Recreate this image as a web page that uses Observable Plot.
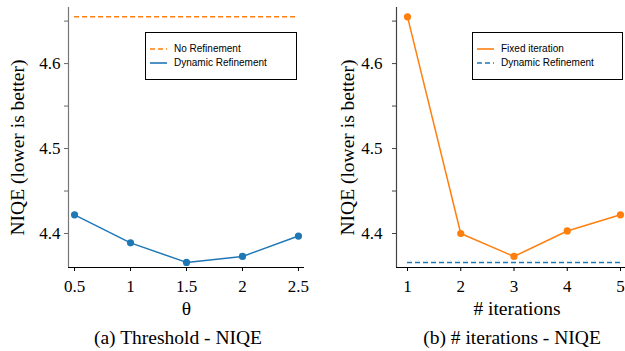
<!DOCTYPE html>
<html>
<head>
<meta charset="utf-8">
<script src="https://cdn.jsdelivr.net/npm/d3@7"></script>
<script src="https://cdn.jsdelivr.net/npm/@observablehq/plot@0.6"></script>
<style>
  html, body { margin: 0; padding: 0; background: white; }
  body { width: 625px; height: 351px; overflow: hidden; position: relative; }
  .panel { position: absolute; top: 0; }
  .caption { position: absolute; top: 328px; font-family: "Times New Roman", Times, serif; font-size: 19.5px; line-height: 20px; text-align: center; color: #000; white-space: nowrap; }
  .legend { position: absolute; box-sizing: border-box; border: 1px solid #000; background: white; font-family: sans-serif; font-size: 10px; color: #000; }
  .legend .item { position: absolute; left: 0; height: 14px; white-space: nowrap; }
  .legend svg { position: absolute; left: 4px; top: 0; }
  .legend span { position: absolute; left: 28px; top: 0; line-height: 14px; }
</style>
</head>
<body>
<script>
// ---- data ----
const thresholds = [0.5, 1, 1.5, 2, 2.5];
const thresholdLabels = ["0.5", "1", "1.5", "2", "2.5"];
const dynamicNiqe = [4.422, 4.389, 4.366, 4.373, 4.397];
const noRefinementNiqe = 4.655;

const iterations = [1, 2, 3, 4, 5];
const iterationLabels = ["1", "2", "3", "4", "5"];
const fixedNiqe = [4.655, 4.400, 4.373, 4.403, 4.422];
const dynamicBestNiqe = 4.366;

const yTicks = [4.4, 4.45, 4.5, 4.55, 4.6, 4.65];
const yLabel = "NIQE (lower is better)";

const ORANGE = "#ff7f0e";
const BLUE = "#1f77b4";
const DASH = "5,3";
const SERIF = "'Times New Roman', Times, serif";
const yDomain = [4.36, 4.666];
const yFmt = d => Math.abs(d * 10 - Math.round(d * 10)) < 1e-6 ? d.toFixed(1) : "";

// ---- left panel ----
const leftData = thresholds.map((t, i) => ({x: t, y: dynamicNiqe[i]}));
const xDomL = [0.446, 2.554];
const left = Plot.plot({
  width: 312, height: 325,
  marginTop: 7, marginBottom: 58, marginLeft: 68, marginRight: 8,
  style: {fontFamily: SERIF, fontSize: "17px", color: "#000", background: "transparent"},
  x: {domain: xDomL},
  y: {domain: yDomain},
  marks: [
    Plot.axisY({ticks: yTicks, tickFormat: yFmt, tickSize: 4, tickPadding: 4, stroke: "#666", label: null, fill: "#000"}),
    Plot.axisX({ticks: thresholds, tickFormat: d => thresholdLabels[thresholds.indexOf(d)], tickSize: 4, tickPadding: 8, label: null, stroke: "#000", fill: "#000"}),
    Plot.ruleX([xDomL[0]], {stroke: "#777", strokeWidth: 1.2}),
    Plot.ruleY([yDomain[0]], {stroke: "#000", strokeWidth: 1.2}),
    Plot.ruleY([noRefinementNiqe], {x1: thresholds[0], x2: thresholds[thresholds.length - 1], stroke: ORANGE, strokeWidth: 1.5, strokeDasharray: DASH}),
    Plot.line(leftData, {x: "x", y: "y", stroke: BLUE, strokeWidth: 1.5}),
    Plot.dot(leftData, {x: "x", y: "y", fill: BLUE, r: 3.6}),
    Plot.text([yLabel], {frameAnchor: "left", textAnchor: "middle", lineAnchor: "middle", rotate: -90, dx: -51, dy: 10, fontSize: 19.5, fill: "#000"}),
    Plot.text(["θ"], {frameAnchor: "bottom", textAnchor: "middle", lineAnchor: "top", dy: 34, fontSize: 19.5, fill: "#000"})
  ]
});
left.classList.add("panel");
left.style.left = "0px";
document.body.appendChild(left);

// ---- right panel ----
const rightData = iterations.map((t, i) => ({x: t, y: fixedNiqe[i]}));
const xDomR = [0.793, 5.207];
const right = Plot.plot({
  width: 313, height: 325,
  marginTop: 7, marginBottom: 58, marginLeft: 84, marginRight: 0,
  style: {fontFamily: SERIF, fontSize: "17px", color: "#000", background: "transparent"},
  x: {domain: xDomR, range: [84, 319]},
  y: {domain: yDomain},
  marks: [
    Plot.axisY({ticks: yTicks, tickFormat: yFmt, tickSize: 4, tickPadding: 10, stroke: "#444", label: null, fill: "#000"}),
    Plot.axisX({ticks: iterations, tickFormat: d => iterationLabels[iterations.indexOf(d)], tickSize: 4, tickPadding: 8, label: null, stroke: "#000", fill: "#000"}),
    Plot.ruleX([xDomR[0]], {stroke: "#444", strokeWidth: 1.2}),
    Plot.ruleY([yDomain[0]], {x1: xDomR[0], x2: xDomR[1], stroke: "#000", strokeWidth: 1.2}),
    Plot.ruleY([dynamicBestNiqe], {x1: iterations[0], x2: iterations[iterations.length - 1], stroke: BLUE, strokeWidth: 1.5, strokeDasharray: DASH}),
    Plot.line(rightData, {x: "x", y: "y", stroke: ORANGE, strokeWidth: 1.5}),
    Plot.dot(rightData, {x: "x", y: "y", fill: ORANGE, r: 3.6}),
    Plot.text([yLabel], {frameAnchor: "left", textAnchor: "middle", lineAnchor: "middle", rotate: -90, dx: -49, dy: 10, fontSize: 19.5, fill: "#000"}),
    Plot.text(["# iterations"], {x: () => d3.mean(iterations), frameAnchor: "bottom", textAnchor: "middle", lineAnchor: "top", dx: 3, dy: 34, fontSize: 19.5, fill: "#000"})
  ]
});
right.classList.add("panel");
right.style.left = "312px";
document.body.appendChild(right);

// ---- captions ----
function caption(text, center, width) {
  const c = document.createElement("div");
  c.className = "caption";
  c.style.left = (center - width / 2) + "px";
  c.style.width = width + "px";
  c.textContent = text;
  document.body.appendChild(c);
}
caption("(a) Threshold - NIQE", 178, 300);
caption("(b) # iterations - NIQE", 512, 300);

// ---- legends ----
function legend(x, y, w, h, items) {
  const box = document.createElement("div");
  box.className = "legend";
  Object.assign(box.style, {left: x + "px", top: y + "px", width: w + "px", height: h + "px"});
  items.forEach((it, i) => {
    const row = document.createElement("div");
    row.className = "item";
    row.style.top = (9 + i * 14) + "px";
    row.style.width = "100%";
    const ns = "http://www.w3.org/2000/svg";
    const s = document.createElementNS(ns, "svg");
    s.setAttribute("width", 18); s.setAttribute("height", 14);
    const l = document.createElementNS(ns, "line");
    l.setAttribute("x1", 0); l.setAttribute("x2", 17);
    l.setAttribute("y1", 7); l.setAttribute("y2", 7);
    l.setAttribute("stroke", it.color); l.setAttribute("stroke-width", 1.6);
    if (it.dash) l.setAttribute("stroke-dasharray", DASH);
    s.appendChild(l);
    row.appendChild(s);
    const t = document.createElement("span");
    t.textContent = it.label;
    row.appendChild(t);
    box.appendChild(row);
  });
  document.body.appendChild(box);
}
legend(145, 32, 152, 48, [
  {label: "No Refinement", color: ORANGE, dash: true},
  {label: "Dynamic Refinement", color: BLUE, dash: false}
]);
legend(472, 32, 151, 48, [
  {label: "Fixed iteration", color: ORANGE, dash: false},
  {label: "Dynamic Refinement", color: BLUE, dash: true}
]);
</script>
</body>
</html>
